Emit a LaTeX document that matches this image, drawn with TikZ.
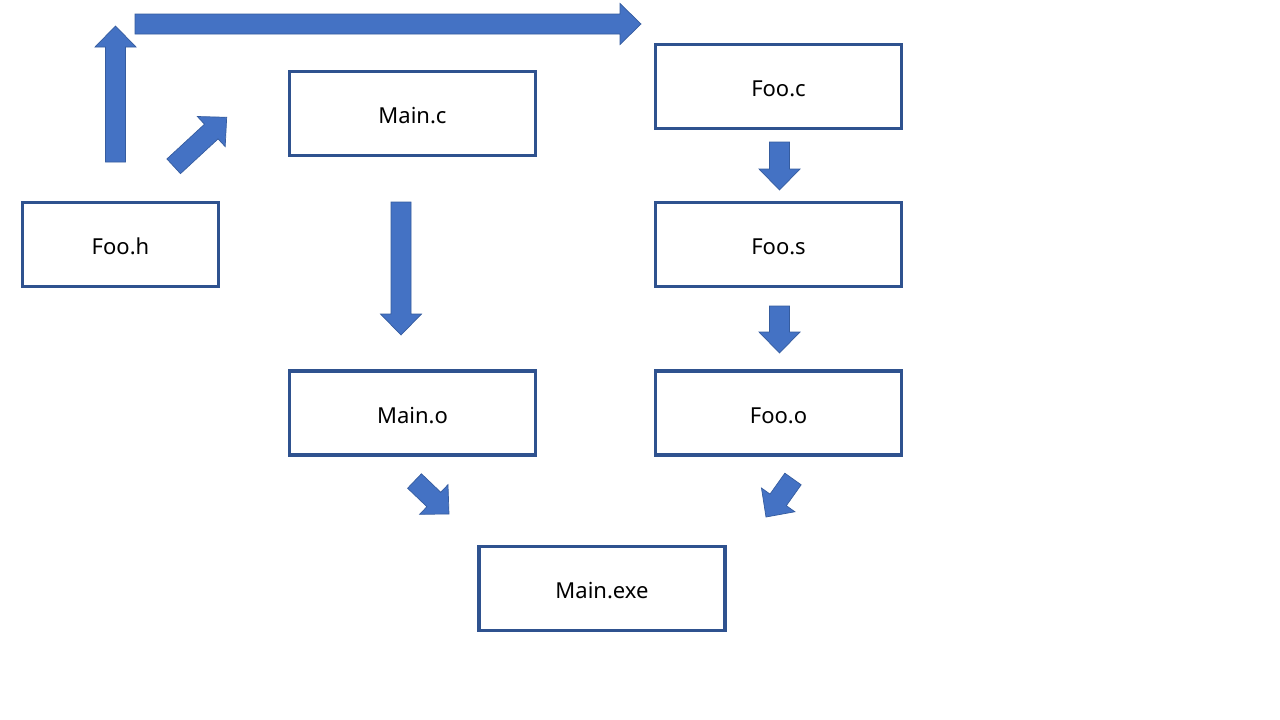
\documentclass[tikz,border=0pt]{standalone}
\usepackage{fontspec}
\setmainfont{Noto Sans}
\usetikzlibrary{calc}
\definecolor{boxline}{HTML}{2F528F}
\definecolor{arrfill}{HTML}{4472C4}
\newcommand\blockarrow[2]{%
  \coordinate (nk) at ($(#2)!21pt!(#1)$);
  \draw[blockarr] ($(#1)!10pt!90:(#2)$) -- ($(nk)!10pt!90:(#2)$) -- ($(nk)!20.5pt!90:(#2)$) -- (#2)
    -- ($(nk)!20.5pt!-90:(#2)$) -- ($(nk)!10pt!-90:(#2)$) -- ($(#1)!10pt!-90:(#2)$) -- cycle;}
\begin{document}
\begin{tikzpicture}[x=1pt,y=-1pt,
  box/.style={draw=boxline, line width=3.2pt, fill=white, minimum width=246pt, minimum height=84pt,
    inner sep=0pt, text height=20.5pt, text depth=0pt, font=\fontsize{22}{26}\selectfont},
  blockarr/.style={fill=arrfill, draw=boxline!70!arrfill, line width=0.7pt, line join=miter}]
\useasboundingbox (0,0) rectangle (1280,720);
\fill[white] (0,0) rectangle (1280,720);
% boxes
\node[box, minimum width=196pt] (fooh) at (120.5,244.5) {Foo.h};
\node[box] (mainc) at (412.5,113.5) {Main.c};
\node[box] (fooc) at (778.5,86.5) {Foo.c};
\node[box] (foos) at (778.5,244.5) {Foo.s};
\node[box] (maino) at (412.5,413) {Main.o};
\node[box] (fooo) at (778.5,413) {Foo.o};
\node[box] (mainexe) at (602,588.5) {Main.exe};
% arrow end points
\coordinate (upS) at (115.5,162);   \coordinate (upE) at (115.5,26);
\coordinate (rtS) at (135,24);      \coordinate (rtE) at (641,24);
\coordinate (dgS) at (173.7,166.3); \coordinate (dgE) at (226.7,117.3);
\coordinate (mcS) at (401,202);     \coordinate (mcE) at (401,335);
\coordinate (fcS) at (779.5,142);   \coordinate (fcE) at (779.5,190);
\coordinate (fsS) at (779.5,306);   \coordinate (fsE) at (779.5,353);
\coordinate (moS) at (414.5,481);   \coordinate (moE) at (449,514);
\coordinate (foS) at (793,479);     \coordinate (foE) at (766,517);
% block arrows
\blockarrow{upS}{upE}
\blockarrow{rtS}{rtE}
\blockarrow{dgS}{dgE}
\blockarrow{mcS}{mcE}
\blockarrow{fcS}{fcE}
\blockarrow{fsS}{fsE}
\blockarrow{moS}{moE}
\blockarrow{foS}{foE}
\end{tikzpicture}
\end{document}
